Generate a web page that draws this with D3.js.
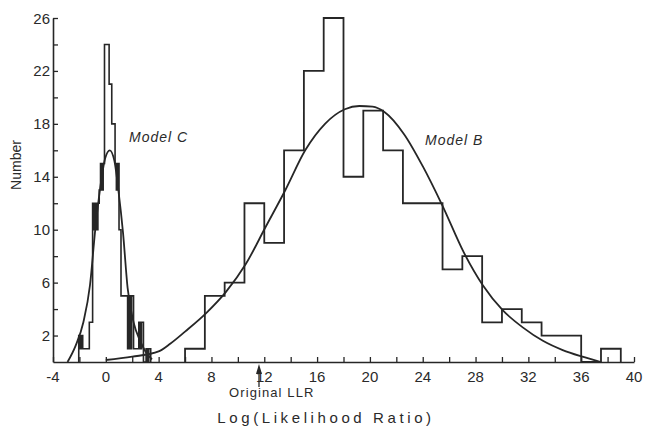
<!DOCTYPE html>
<html>
<head>
<meta charset="utf-8">
<script src="https://cdn.jsdelivr.net/npm/d3@7"></script>
<style>
  body { margin: 0; background: #ffffff; }
  text { font-family: "Liberation Sans", Arial, sans-serif; fill: #2a2a2a; }
</style>
</head>
<body>
<script>
// ---- data ----
var xTickLabels = [-4, 0, 4, 8, 12, 16, 20, 24, 28, 32, 36, 40];
var xTickMarks = [-4, -2, 0, 2, 4, 6, 8, 10, 12, 14, 16, 18, 20, 22, 24, 26, 28, 30, 32, 34, 36, 38, 40];
var yTickLabels = [2, 6, 10, 14, 18, 22, 26];
var yTickMarks = [2, 4, 6, 8, 10, 12, 14, 16, 18, 20, 22, 24, 26];

// Model B histogram (bin edges + counts)
var bEdges = [6, 7.5, 9, 10.5, 12, 13.5, 15, 16.5, 18, 19.5, 21, 22.5, 24, 25.5, 27, 28.5, 30, 31.5, 33, 34.5, 36, 37.5, 39];
var bCounts = [1, 5, 6, 12, 9, 16, 22, 26, 14, 19, 16, 12, 12, 7, 8, 3, 4, 3, 2, 2, 0, 1];

// Model B fitted curve
var bCurveX = [0, 2, 4, 4.9, 6, 7.6, 9.1, 10.6, 12.1, 13.6, 15.1, 16.6, 18.1, 19.2, 20.2, 21.1, 22.6, 24, 25.5, 27.1, 28.55, 30.07, 31.6, 33.1, 34.6, 36.1, 37.5];
var bCurveY = [0.15, 0.4, 0.8, 1.4, 2.3, 3.7, 5.3, 7.4, 10.2, 13.0, 16.0, 18.0, 19.1, 19.35, 19.3, 18.9, 17.2, 14.8, 11.8, 8.3, 5.8, 3.9, 2.6, 1.6, 0.9, 0.4, 0];

// Model C histogram (narrow bins)
var cEdges = [-2.05, -1.95, -1.85, -1.75, -1.25, -1.0, -0.9, -0.8, -0.7, -0.6, -0.5, -0.4, -0.3, -0.2, -0.1, 0.25, 0.45, 0.7, 0.8, 0.9, 1.0, 1.15, 1.65, 1.75, 1.85, 1.95, 2.1, 2.5, 2.6, 2.7, 2.85, 3.05, 3.15, 3.25, 3.4];
var cCounts = [2, 1, 2, 1, 3, 12, 10, 12, 10, 12, 13, 15, 13, 15, 24, 21, 18, 15, 13, 15, 10, 5, 1, 5, 1, 5, 1, 3, 1, 3, 0, 1, 0, 1];

// Model C fitted curve
var cCurveX = [-2.9, -2.3, -1.7, -1.2, -0.8, -0.42, -0.05, 0.3, 0.65, 0.95, 1.3, 1.65, 2.1, 2.6, 3.0, 3.5];
var cCurveY = [0, 1.2, 3.0, 5.8, 10.0, 13.2, 15.4, 16.0, 15.2, 13.0, 9.8, 5.6, 3.0, 1.6, 0.8, 0.2];

var originalLLR = 11.6;

// ---- layout ----
var svgWidth = 649;
var svgHeight = 428;
var ink = "#262626";

var svg = d3.select("body")
  .append("svg")
  .attr("width", svgWidth)
  .attr("height", svgHeight);

var x = d3.scaleLinear().domain([-4, 40]).range([53, 634]);
var y = d3.scaleLinear().domain([0, 26]).range([362, 18]);

// x axis: line, inward ticks, labels
var xAxis = d3.axisBottom(x)
  .tickValues(xTickMarks)
  .tickSize(-5)
  .tickSizeOuter(0)
  .tickFormat("");

svg.append("g")
  .attr("transform", `translate(0, ${y(0)})`)
  .call(xAxis)
  .call(g => g.select(".domain").attr("stroke", ink).attr("stroke-width", 1.6))
  .call(g => g.selectAll(".tick line").attr("stroke", ink).attr("stroke-width", 1.3));

svg.append("g").selectAll("text")
  .data(xTickLabels)
  .enter()
  .append("text")
  .attr("x", d => x(d))
  .attr("y", 382)
  .attr("text-anchor", "middle")
  .attr("font-size", "15px")
  .text(d => d);

// y axis
var yAxis = d3.axisLeft(y)
  .tickValues(yTickMarks)
  .tickSize(-5)
  .tickSizeOuter(0)
  .tickFormat("");

svg.append("g")
  .attr("transform", `translate(${x(-4)}, 0)`)
  .call(yAxis)
  .call(g => g.select(".domain").attr("stroke", ink).attr("stroke-width", 1.6))
  .call(g => g.selectAll(".tick line").attr("stroke", ink).attr("stroke-width", 1.3));

svg.append("g").selectAll("text")
  .data(yTickLabels)
  .enter()
  .append("text")
  .attr("x", 50)
  .attr("y", d => y(d) + 5.5)
  .attr("text-anchor", "end")
  .attr("font-size", "15px")
  .text(d => d);

// axis titles
svg.append("text")
  .attr("transform", "translate(21, 165) rotate(-90)")
  .attr("text-anchor", "middle")
  .attr("font-size", "14px")
  .text("Number");

svg.append("text")
  .attr("x", 326)
  .attr("y", 423)
  .attr("text-anchor", "middle")
  .attr("font-size", "15px")
  .attr("letter-spacing", "3.6px")
  .text("Log(Likelihood Ratio)");

// histograms as step outlines
function stepPoints(edges, counts) {
  var pts = [[edges[0], 0]];
  counts.forEach(function(c, i) {
    pts.push([edges[i], c]);
  });
  pts.push([edges[edges.length - 1], 0]);
  return pts;
}

var stepLine = d3.line()
  .x(d => x(d[0]))
  .y(d => y(d[1]))
  .curve(d3.curveStepAfter);

svg.append("path")
  .attr("d", stepLine(stepPoints(bEdges, bCounts)))
  .attr("fill", "none")
  .attr("stroke", ink)
  .attr("stroke-width", 1.8);

svg.append("path")
  .attr("d", stepLine(stepPoints(cEdges, cCounts)))
  .attr("fill", "none")
  .attr("stroke", ink)
  .attr("stroke-width", 1.6);

// fitted curves
var smoothLine = d3.line()
  .x(d => x(d[0]))
  .y(d => y(d[1]))
  .curve(d3.curveMonotoneX);

svg.append("path")
  .attr("d", smoothLine(bCurveX.map((v, i) => [v, bCurveY[i]])))
  .attr("fill", "none")
  .attr("stroke", ink)
  .attr("stroke-width", 1.8);

svg.append("path")
  .attr("d", smoothLine(cCurveX.map((v, i) => [v, cCurveY[i]])))
  .attr("fill", "none")
  .attr("stroke", ink)
  .attr("stroke-width", 1.8);

// model labels
svg.append("text")
  .attr("x", 129)
  .attr("y", 142)
  .attr("font-size", "14px")
  .attr("font-style", "italic")
  .attr("letter-spacing", "1px")
  .text("Model C");

svg.append("text")
  .attr("x", 425)
  .attr("y", 145)
  .attr("font-size", "14px")
  .attr("font-style", "italic")
  .attr("letter-spacing", "1px")
  .text("Model B");

// original LLR arrow
var ax = x(originalLLR);
svg.append("line")
  .attr("x1", ax).attr("x2", ax)
  .attr("y1", 372).attr("y2", 387)
  .attr("stroke", ink)
  .attr("stroke-width", 1.3);

svg.append("path")
  .attr("d", `M${ax},364 L${ax - 3},374 L${ax + 3},374 Z`)
  .attr("fill", ink);

svg.append("text")
  .attr("x", 229)
  .attr("y", 397)
  .attr("font-size", "13px")
  .attr("letter-spacing", "1.1px")
  .text("Original LLR");
</script>
</body>
</html>
